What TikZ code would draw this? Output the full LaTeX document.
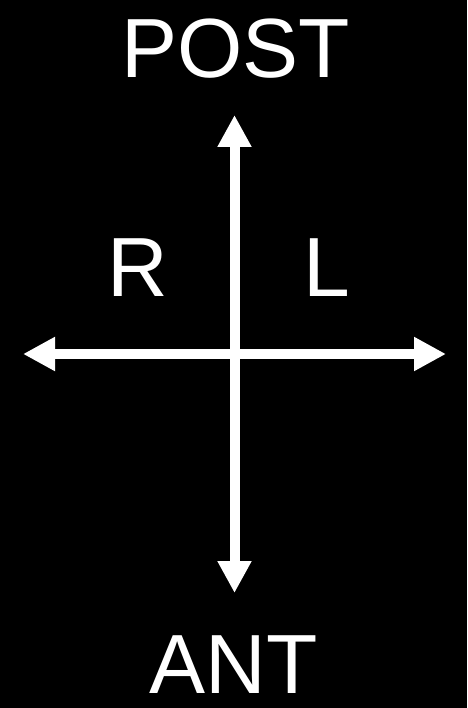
\documentclass[tikz,border=0pt]{standalone}
\usepackage{fontspec}
\setmainfont{Liberation Sans}
\usetikzlibrary{arrows.meta}
\begin{document}
\begin{tikzpicture}[x=1pt,y=-1pt,
  lbl/.style={text=white,anchor=base,inner sep=0pt,text depth=0pt,font=\fontsize{84}{90}\selectfont},
  axis/.style={draw=white,line width=10pt,{Triangle[length=32pt,width=32pt]}-{Triangle[length=32pt,width=32pt]}}]
\fill[black] (0,0) rectangle (467,708);
\useasboundingbox (0,0) rectangle (467,708);
\coordinate (top) at (234.5,115);
\coordinate (bot) at (234.5,593);
\coordinate (left) at (23,354);
\coordinate (right) at (446,354);
\draw[axis] (top) -- (bot);
\draw[axis] (left) -- (right);
\node[lbl] (post) at (235.5,78) {POST};
\node[lbl] (ant) at (233.5,693) {ANT};
\node[lbl] (r) at (137.5,296) {R};
\node[lbl] (l) at (327,296) {L};
\end{tikzpicture}
\end{document}
